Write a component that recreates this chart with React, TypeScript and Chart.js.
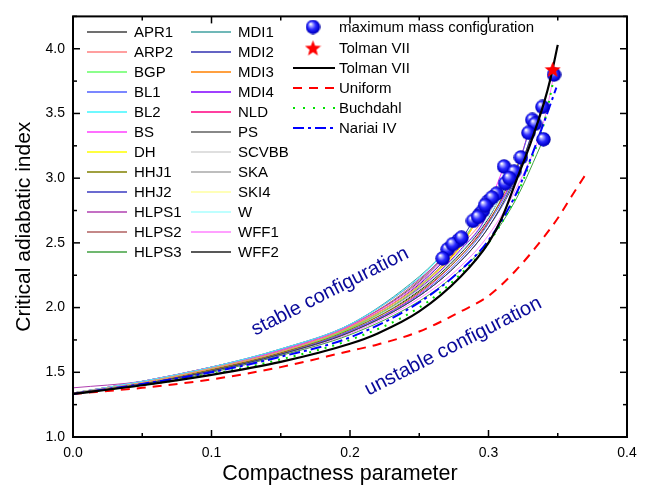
import { useEffect, useRef } from 'react';
import { Chart, registerables } from 'chart.js';
Chart.register(...registerables);

const FONT = '"Liberation Sans", Arial, sans-serif';

const eosNames = ['APR1','ARP2','BGP','BL1','BL2','BS','DH','HHJ1','HHJ2','HLPS1','HLPS2','HLPS3',
  'MDI1','MDI2','MDI3','MDI4','NLD','PS','SCVBB','SKA','SKI4','W','WFF1','WFF2'];
const eosColors = ['#404040','#ff7f7f','#66ff66','#4f5fff','#3ff7ff','#ff3fff','#ffff00','#808000','#3a3ac0','#b040b0','#b06060','#40a040',
  '#40a0a0','#3030b0','#ff8000','#8000ff','#ff0080','#606060','#d4d4d4','#a8a8a8','#ffffa0','#a8ffff','#ff80ff','#202020'];
const eosEndX = [0.3389,0.3058,0.2996,0.3316,0.2705,0.3112,0.2936,0.3234,0.3336,0.2669,0.2783,0.3397,
  0.2742,0.2888,0.2960,0.3025,0.3288,0.2805,0.3120,0.2925,0.2975,0.3185,0.3473,0.3150];
const eosEndY = [3.55,2.88,2.82,3.45,2.45,3.09,2.72,3.16,3.42,2.38,2.52,3.30,
  2.49,2.67,2.75,2.85,3.35,2.54,2.96,2.70,2.79,3.05,3.80,3.00];
const gridX = [0, 0.05, 0.1, 0.15, 0.2, 0.25, 0.28, 0.30, 0.32, 0.34];
const eosY = [
  [1.335,1.41,1.51,1.64,1.81,2.09,2.36,2.62,3.02],
  [1.34,1.42,1.53,1.66,1.85,2.17,2.48,2.74],
  [1.34,1.42,1.53,1.66,1.84,2.16,2.50],
  [1.335,1.41,1.51,1.64,1.82,2.10,2.38,2.65,3.05],
  [1.34,1.43,1.54,1.68,1.87,2.23],
  [1.34,1.43,1.54,1.67,1.86,2.19,2.52,2.80],
  [1.34,1.42,1.53,1.66,1.85,2.17,2.47],
  [1.335,1.42,1.52,1.65,1.83,2.12,2.40,2.66,3.08],
  [1.335,1.41,1.51,1.64,1.81,2.09,2.36,2.62,3.00],
  [1.38,1.43,1.54,1.68,1.87,2.22],
  [1.34,1.43,1.54,1.67,1.86,2.21],
  [1.335,1.40,1.50,1.63,1.79,2.05,2.29,2.51,2.84],
  [1.34,1.43,1.54,1.68,1.87,2.24],
  [1.34,1.42,1.53,1.66,1.85,2.18,2.52],
  [1.34,1.42,1.53,1.66,1.84,2.16,2.48],
  [1.34,1.42,1.53,1.66,1.84,2.15,2.45,2.75],
  [1.335,1.41,1.52,1.65,1.82,2.11,2.40,2.67,3.06],
  [1.34,1.43,1.54,1.67,1.86,2.20],
  [1.34,1.42,1.53,1.65,1.83,2.14,2.44,2.72],
  [1.34,1.42,1.53,1.66,1.85,2.17,2.48],
  [1.34,1.42,1.53,1.66,1.84,2.15,2.47],
  [1.34,1.42,1.53,1.65,1.83,2.14,2.43,2.70],
  [1.335,1.41,1.50,1.63,1.80,2.07,2.32,2.56,2.92,3.44],
  [1.335,1.42,1.52,1.65,1.83,2.13,2.42,2.69],
];

const tolmanX = [0,0.05,0.1,0.15,0.2,0.22,0.25,0.28,0.30,0.31,0.32,0.33,0.34,0.345,0.35];
const tolmanY = [1.333,1.40,1.48,1.58,1.72,1.80,1.97,2.24,2.50,2.70,2.98,3.26,3.58,3.78,4.03];
const uniformX = [0,0.05,0.1,0.15,0.2,0.22,0.25,0.28,0.30,0.32,0.34,0.35,0.36,0.372];
const uniformY = [1.333,1.38,1.445,1.54,1.665,1.715,1.815,1.97,2.09,2.29,2.545,2.69,2.86,3.06];
const buchdahlX = [0,0.05,0.1,0.15,0.2,0.25,0.28,0.30,0.32,0.33,0.34,0.347];
const buchdahlY = [1.333,1.40,1.485,1.60,1.75,2.00,2.26,2.50,2.86,3.12,3.42,3.76];
const nariaiX = [0,0.05,0.1,0.15,0.2,0.25,0.28,0.30,0.32,0.33,0.34,0.349];
const nariaiY = [1.333,1.41,1.50,1.62,1.77,2.04,2.29,2.52,2.88,3.14,3.43,3.70];
const starX = [0.3463];
const starY = [3.84];

const xTicks = [0, 0.1, 0.2, 0.3, 0.4];
const xMinorTicks = [0.05, 0.15, 0.25, 0.35];
const yTicks = [1.0, 1.5, 2.0, 2.5, 3.0, 3.5, 4.0];
const yMinorTicks = [1.25, 1.75, 2.25, 2.75, 3.25, 3.75, 4.25];

function makeSphere(): HTMLCanvasElement {
  const c = document.createElement('canvas');
  c.width = 15; c.height = 15;
  const g = c.getContext('2d')!;
  const grad = g.createRadialGradient(5, 4.5, 0.5, 7.5, 7.5, 7.5);
  grad.addColorStop(0, '#ffffff');
  grad.addColorStop(0.18, '#a8a8ff');
  grad.addColorStop(0.5, '#2a2aff');
  grad.addColorStop(0.85, '#0000cc');
  grad.addColorStop(1, '#000090');
  g.fillStyle = grad;
  g.beginPath(); g.arc(7.5, 7.5, 7.2, 0, Math.PI * 2); g.fill();
  return c;
}

function makeStar(): HTMLCanvasElement {
  const c = document.createElement('canvas');
  c.width = 17; c.height = 17;
  const g = c.getContext('2d')!;
  g.fillStyle = '#ff0000';
  g.beginPath();
  for (let i = 0; i < 10; i++) {
    const r = i % 2 === 0 ? 8.5 : 3.6;
    const a = -Math.PI / 2 + (i * Math.PI) / 5;
    const px = 8.5 + r * Math.cos(a), py = 9.2 + r * Math.sin(a);
    if (i === 0) g.moveTo(px, py); else g.lineTo(px, py);
  }
  g.closePath(); g.fill();
  return c;
}

const pts = (xs: number[], ys: number[]) => xs.map((x, i) => ({ x, y: ys[i] }));

export default function App() {
  const ref = useRef<HTMLCanvasElement>(null);
  useEffect(() => {
    document.body.style.margin = '0';
    const sphere = makeSphere();
    const star = makeStar();
    const datasets: any[] = [];
    datasets.push({ data: pts(starX, starY), showLine: false, pointStyle: star, pointRadius: 8, order: 0 });
    datasets.push({ data: pts(tolmanX, tolmanY), showLine: true, borderColor: '#000', borderWidth: 2.2, pointRadius: 0, cubicInterpolationMode: 'monotone', order: 1 });
    datasets.push({ data: pts(eosEndX, eosEndY), showLine: false, pointStyle: sphere, pointRadius: 7, order: 2 });
    datasets.push({ data: pts(nariaiX, nariaiY), showLine: true, borderColor: '#0000ff', borderWidth: 2, borderDash: [11, 4, 3, 4], pointRadius: 0, cubicInterpolationMode: 'monotone', order: 3 });
    datasets.push({ data: pts(buchdahlX, buchdahlY), showLine: true, borderColor: '#00e000', borderWidth: 2, borderDash: [2, 6], pointRadius: 0, cubicInterpolationMode: 'monotone', order: 4 });
    datasets.push({ data: pts(uniformX, uniformY), showLine: true, borderColor: '#ff0000', borderWidth: 2, borderDash: [9, 7], pointRadius: 0, cubicInterpolationMode: 'monotone', order: 5 });
    eosNames.forEach((n, i) => {
      const xs: number[] = [], ys: number[] = [];
      eosY[i].forEach((v, j) => { if (gridX[j] < eosEndX[i]) { xs.push(gridX[j]); ys.push(v); } });
      xs.push(eosEndX[i]); ys.push(eosEndY[i]);
      datasets.push({ label: n, data: pts(xs, ys), showLine: true, borderColor: eosColors[i], borderWidth: 1, pointRadius: 0, cubicInterpolationMode: 'monotone', order: 10 + i });
    });

    const deco = {
      id: 'deco',
      afterDatasetsDraw(chart: any) {
        const { ctx, chartArea: a, scales } = chart;
        const x = scales.x, y = scales.y;
        ctx.save();
        // annotations
        ctx.fillStyle = '#0a0a9a';
        ctx.font = `20px ${FONT}`;
        ctx.textAlign = 'center'; ctx.textBaseline = 'middle';
        const ann = (t: string, vx: number, vy: number) => {
          ctx.save();
          ctx.translate(x.getPixelForValue(vx), y.getPixelForValue(vy));
          ctx.rotate(-27 * Math.PI / 180);
          ctx.fillText(t, 0, 0);
          ctx.restore();
        };
        ann('stable configuration', 0.1856, 2.124);
        ann('unstable configuration', 0.2745, 1.70);
        // x axis title
        ctx.fillStyle = '#000';
        ctx.font = `21.5px ${FONT}`;
        ctx.fillText('Compactness parameter', 340, 474);
        // ticks
        ctx.strokeStyle = '#000'; ctx.lineWidth = 1.5;
        const seg = (x1: number, y1: number, x2: number, y2: number) => { ctx.beginPath(); ctx.moveTo(x1, y1); ctx.lineTo(x2, y2); ctx.stroke(); };
        xTicks.forEach(v => { const p = x.getPixelForValue(v); seg(p, a.bottom, p, a.bottom - 7); seg(p, a.top, p, a.top + 7); });
        xMinorTicks.forEach(v => { const p = x.getPixelForValue(v); seg(p, a.bottom, p, a.bottom - 4); seg(p, a.top, p, a.top + 4); });
        yTicks.forEach(v => { const p = y.getPixelForValue(v); seg(a.left, p, a.left + 7, p); seg(a.right, p, a.right - 7, p); });
        yMinorTicks.forEach(v => { const p = y.getPixelForValue(v); seg(a.left, p, a.left + 4, p); seg(a.right, p, a.right - 4, p); });
        ctx.lineWidth = 2;
        ctx.strokeRect(a.left, a.top, a.right - a.left, a.bottom - a.top);
        // legend 1
        ctx.font = `15px ${FONT}`;
        ctx.textAlign = 'left'; ctx.fillStyle = '#000';
        eosNames.forEach((n, i) => {
          const col = i < 12 ? 0 : 1;
          const row = i % 12;
          const ly = 32 + row * 20;
          const lx = col === 0 ? 87 : 191;
          ctx.strokeStyle = eosColors[i]; ctx.lineWidth = 1.5; ctx.setLineDash([]);
          seg(lx, ly, lx + 40, ly);
          ctx.fillStyle = '#000';
          ctx.fillText(n, lx + 47, ly + 1);
        });
        // legend 2
        const tx = 339;
        ctx.drawImage(sphere, 313 - 7.5, 27 - 7.5);
        ctx.fillText('maximum mass configuration', tx, 28);
        ctx.drawImage(star, 313 - 8.5, 48 - 8.5);
        ctx.fillText('Tolman VII', tx, 49);
        const ll = (yy: number, color: string, dash: number[], label: string) => {
          ctx.strokeStyle = color; ctx.lineWidth = 2; ctx.setLineDash(dash);
          seg(293, yy, 335, yy);
          ctx.setLineDash([]);
          ctx.fillText(label, tx, yy + 1);
        };
        ll(68, '#000', [], 'Tolman VII');
        ll(88, '#ff0000', [9, 7], 'Uniform');
        ll(108, '#00e000', [2, 8], 'Buchdahl');
        ll(128, '#0000ff', [11, 4, 3, 4], 'Nariai IV');
        ctx.restore();
      },
    };

    const chart = new Chart(ref.current!, {
      type: 'scatter',
      data: { datasets },
      options: {
        animation: false,
        responsive: false,
        layout: { padding: { left: 0, right: 19, top: 12, bottom: 0 } },
        plugins: { legend: { display: false }, tooltip: { enabled: false } },
        scales: {
          x: {
            type: 'linear', min: 0, max: 0.4,
            afterFit: (s: any) => { s.height = 51; },
            afterBuildTicks: (s: any) => { s.ticks = xTicks.map(v => ({ value: v })); },
            grid: { display: false, drawTicks: false },
            border: { display: false },
            ticks: { padding: 8, color: '#000', font: { family: FONT, size: 14 }, callback: (v: any) => Number(v).toFixed(1) },
            title: { display: false },
          },
          y: {
            type: 'linear', min: 1.0, max: 4.25,
            afterFit: (s: any) => { s.width = 73; },
            afterBuildTicks: (s: any) => { s.ticks = yTicks.map(v => ({ value: v })); },
            grid: { display: false, drawTicks: false },
            border: { display: false },
            ticks: { padding: 8, color: '#000', font: { family: FONT, size: 14 }, callback: (v: any) => Number(v).toFixed(1) },
            title: { display: true, text: 'Critical adiabatic index', color: '#000', font: { family: FONT, size: 21 }, padding: { top: 12, bottom: 0 } },
          },
        },
      },
      plugins: [deco],
    } as any);
    return () => chart.destroy();
  }, []);
  return (
    <div style={{ width: 646, height: 488, background: '#fff' }}>
      <canvas ref={ref} width={646} height={488} style={{ width: 646, height: 488, display: 'block' }} />
    </div>
  );
}
